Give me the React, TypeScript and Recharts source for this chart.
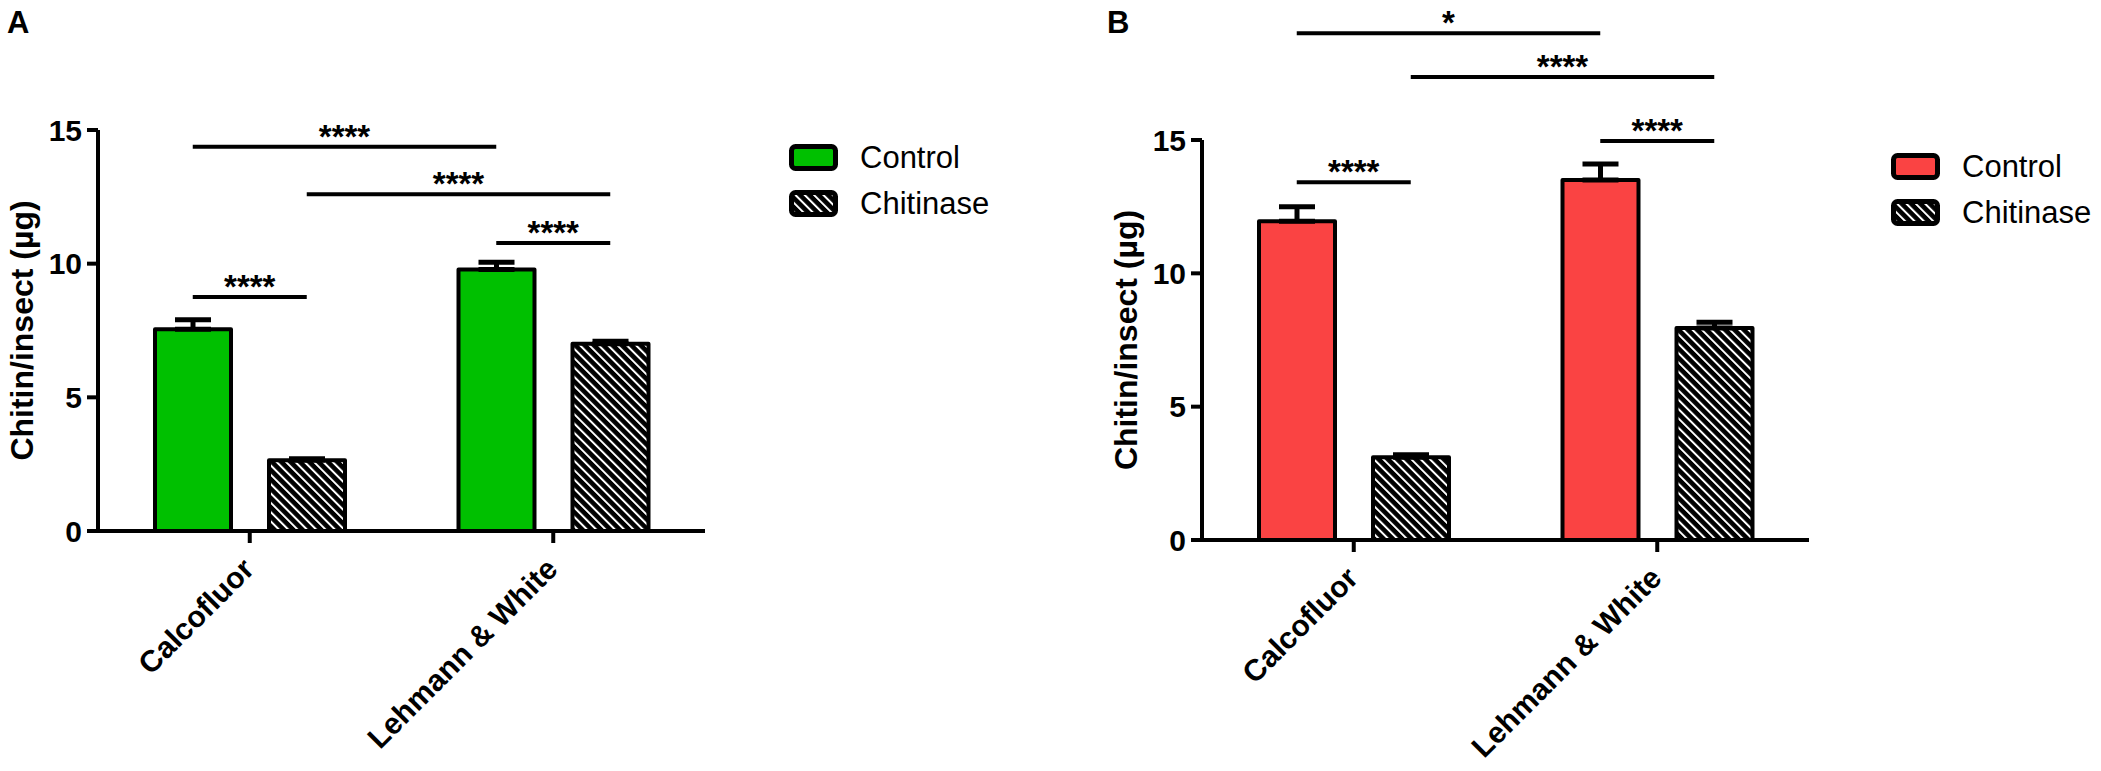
import React from 'react';
import { Bar, BarChart, ErrorBar, Label, Legend, ReferenceLine, XAxis, YAxis } from 'recharts';

const CATEGORIES = ['Calcofluor', 'Lehmann & White'];
const SERIES_NAMES = ['Control', 'Chitinase'];
const Y_TICKS = [0, 5, 10, 15];
const Y_LABEL = 'Chitin/insect (µg)';

// panel A
const A_CONTROL = [7.55, 9.78];
const A_CONTROL_SEM = [0.35, 0.27];
const A_CHITINASE = [2.65, 7.0];
const A_CHITINASE_SEM = [0.05, 0.1];

// panel B
const B_CONTROL = [11.95, 13.5];
const B_CONTROL_SEM = [0.55, 0.6];
const B_CHITINASE = [3.1, 7.95];
const B_CHITINASE_SEM = [0.1, 0.22];

type SeriesKey = 'control' | 'chitinase';
interface Sig {
  from: string;
  fromKey: SeriesKey;
  to: string;
  toKey: SeriesKey;
  y: number;
  text: string;
}

const A_SIG: Sig[] = [
  { from: 'Calcofluor', fromKey: 'control', to: 'Lehmann & White', toKey: 'control', y: 14.37, text: '****' },
  { from: 'Calcofluor', fromKey: 'chitinase', to: 'Lehmann & White', toKey: 'chitinase', y: 12.6, text: '****' },
  { from: 'Lehmann & White', fromKey: 'control', to: 'Lehmann & White', toKey: 'chitinase', y: 10.77, text: '****' },
  { from: 'Calcofluor', fromKey: 'control', to: 'Calcofluor', toKey: 'chitinase', y: 8.75, text: '****' },
];

const B_SIG: Sig[] = [
  { from: 'Calcofluor', fromKey: 'control', to: 'Lehmann & White', toKey: 'control', y: 19.0, text: '*' },
  { from: 'Calcofluor', fromKey: 'chitinase', to: 'Lehmann & White', toKey: 'chitinase', y: 17.36, text: '****' },
  { from: 'Lehmann & White', fromKey: 'control', to: 'Lehmann & White', toKey: 'chitinase', y: 14.96, text: '****' },
  { from: 'Calcofluor', fromKey: 'control', to: 'Calcofluor', toKey: 'chitinase', y: 13.42, text: '****' },
];

const FONT = '"Liberation Sans", Arial, sans-serif';
const GREEN = '#00c000';
const RED = '#fa4343';
const HATCH = 'url(#hatch)';

const BAR_SIZE = 76;
const BAR_GAP = 38;
const SERIES_OFFSET: Record<SeriesKey, number> = {
  control: -(BAR_SIZE + BAR_GAP) / 2,
  chitinase: (BAR_SIZE + BAR_GAP) / 2,
};

const buildRows = (control: number[], controlSem: number[], chitinase: number[], chitinaseSem: number[]) =>
  CATEGORIES.map((name, i) => ({
    name,
    control: control[i],
    controlErr: [0, controlSem[i]],
    chitinase: chitinase[i],
    chitinaseErr: [0, chitinaseSem[i]],
  }));

const CategoryTick = ({ x, y, payload }: any) => {
  const ax = x + 6;
  const ay = y + 26;
  return (
    <text
      x={ax}
      y={ay}
      transform={`rotate(-45, ${ax}, ${ay})`}
      textAnchor="end"
      fontSize={30}
      fontWeight="bold"
      fontFamily={FONT}
      fill="#000"
    >
      {payload.value}
    </text>
  );
};

const AxisTitle = (props: any) => {
  const vb = props.viewBox ?? { x: 0, y: 0, width: 0, height: 0 };
  const cx = vb.x + vb.width - 76;
  const cy = vb.y + vb.height / 2;
  return (
    <text
      x={cx}
      y={cy}
      transform={`rotate(-90, ${cx}, ${cy})`}
      textAnchor="middle"
      dominantBaseline="central"
      fontSize={32}
      fontWeight="bold"
      fontFamily={FONT}
      fill="#000"
    >
      {Y_LABEL}
    </text>
  );
};

const SigShape = ({ x1, y1, x2, dx1, dx2, text }: any) => {
  const a = x1 + dx1;
  const b = x2 + dx2;
  return (
    <g>
      <line x1={a} y1={y1} x2={b} y2={y1} stroke="#000" strokeWidth={4} />
      <text x={(a + b) / 2} y={y1 + 1} textAnchor="middle" fontSize={33} fontWeight="bold" fontFamily={FONT} fill="#000">
        {text}
      </text>
    </g>
  );
};

const LegendContent = ({ payload }: any) => {
  const items = [...(payload ?? [])].sort(
    (a: any, b: any) => SERIES_NAMES.indexOf(a.value) - SERIES_NAMES.indexOf(b.value),
  );
  return (
    <div>
      {items.map((entry: any) => (
        <div key={entry.value} style={{ display: 'flex', alignItems: 'center', height: 46 }}>
          <svg width={49} height={27}>
            <rect x={2.5} y={2.5} width={44} height={22} rx={4} fill={entry.color} stroke="#000" strokeWidth={5} />
          </svg>
          <span style={{ marginLeft: 22, fontSize: 31, fontFamily: FONT, color: '#000', lineHeight: 1 }}>{entry.value}</span>
        </div>
      ))}
    </div>
  );
};

interface PanelProps {
  rows: ReturnType<typeof buildRows>;
  sig: Sig[];
  color: string;
  left: number;
  width: number;
  margin: { top: number; right: number; bottom: number; left: number };
  legendPos: { left: number; top: number };
}

const Panel = ({ rows, sig, color, left, width, margin, legendPos }: PanelProps) => (
  <div style={{ position: 'absolute', left, top: 0 }}>
    <BarChart width={width} height={771} data={rows} margin={margin} barSize={BAR_SIZE} barGap={BAR_GAP}>
      <XAxis
        dataKey="name"
        interval={0}
        height={200}
        tickSize={12}
        tickMargin={2}
        axisLine={{ stroke: '#000', strokeWidth: 4 }}
        tickLine={{ stroke: '#000', strokeWidth: 4 }}
        tick={<CategoryTick />}
      />
      <YAxis
        width={60}
        domain={[0, 15]}
        ticks={Y_TICKS}
        interval={0}
        allowDataOverflow
        tickSize={11}
        tickMargin={5}
        axisLine={{ stroke: '#000', strokeWidth: 4 }}
        tickLine={{ stroke: '#000', strokeWidth: 4 }}
        tick={{ fontSize: 30, fontWeight: 'bold', fill: '#000', fontFamily: FONT }}
      >
        <Label content={<AxisTitle />} />
      </YAxis>
      <Legend
        layout="vertical"
        align="center"
        verticalAlign="middle"
        wrapperStyle={{ left: legendPos.left, top: legendPos.top, width: 260, height: 92 }}
        content={<LegendContent />}
      />
      <Bar
        dataKey="control"
        name={SERIES_NAMES[0]}
        fill={color}
        stroke="#000"
        strokeWidth={4}
        strokeLinejoin="round"
        isAnimationActive={false}
      >
        <ErrorBar dataKey="controlErr" width={18} strokeWidth={5} stroke="#000" direction="y" />
      </Bar>
      <Bar
        dataKey="chitinase"
        name={SERIES_NAMES[1]}
        fill={HATCH}
        stroke="#000"
        strokeWidth={4}
        strokeLinejoin="round"
        isAnimationActive={false}
      >
        <ErrorBar dataKey="chitinaseErr" width={18} strokeWidth={5} stroke="#000" direction="y" />
      </Bar>
      {sig.map((s, i) => (
        <ReferenceLine
          key={i}
          segment={[
            { x: s.from, y: s.y },
            { x: s.to, y: s.y },
          ]}
          ifOverflow="visible"
          shape={(p: any) => (
            <SigShape {...p} dx1={SERIES_OFFSET[s.fromKey]} dx2={SERIES_OFFSET[s.toKey]} text={s.text} />
          )}
        />
      ))}
    </BarChart>
  </div>
);

export default function App() {
  const rowsA = buildRows(A_CONTROL, A_CONTROL_SEM, A_CHITINASE, A_CHITINASE_SEM);
  const rowsB = buildRows(B_CONTROL, B_CONTROL_SEM, B_CHITINASE, B_CHITINASE_SEM);
  return (
    <div style={{ position: 'absolute', left: 0, top: 0, width: 2101, height: 771, background: '#fff', overflow: 'hidden' }}>
      <svg width={0} height={0} style={{ position: 'absolute' }}>
        <defs>
          <pattern id="hatch" width={6.6} height={6.6} patternUnits="userSpaceOnUse" patternTransform="rotate(-45)">
            <rect width={6.6} height={6.6} fill="#000" />
            <rect width={2} height={6.6} fill="#fff" />
          </pattern>
        </defs>
      </svg>
      <Panel
        rows={rowsA}
        sig={A_SIG}
        color={GREEN}
        left={0}
        width={1100}
        margin={{ top: 130, right: 395, bottom: 40, left: 38 }}
        legendPos={{ left: 789, top: 134 }}
      />
      <Panel
        rows={rowsB}
        sig={B_SIG}
        color={RED}
        left={1100}
        width={1001}
        margin={{ top: 140, right: 292, bottom: 31, left: 42 }}
        legendPos={{ left: 791, top: 143 }}
      />
      <svg width={2101} height={60} style={{ position: 'absolute', left: 0, top: 0, pointerEvents: 'none' }}>
        <text x={7} y={33} fontSize={31} fontWeight="bold" fontFamily={FONT} fill="#000">A</text>
        <text x={1107} y={33} fontSize={31} fontWeight="bold" fontFamily={FONT} fill="#000">B</text>
      </svg>
    </div>
  );
}
